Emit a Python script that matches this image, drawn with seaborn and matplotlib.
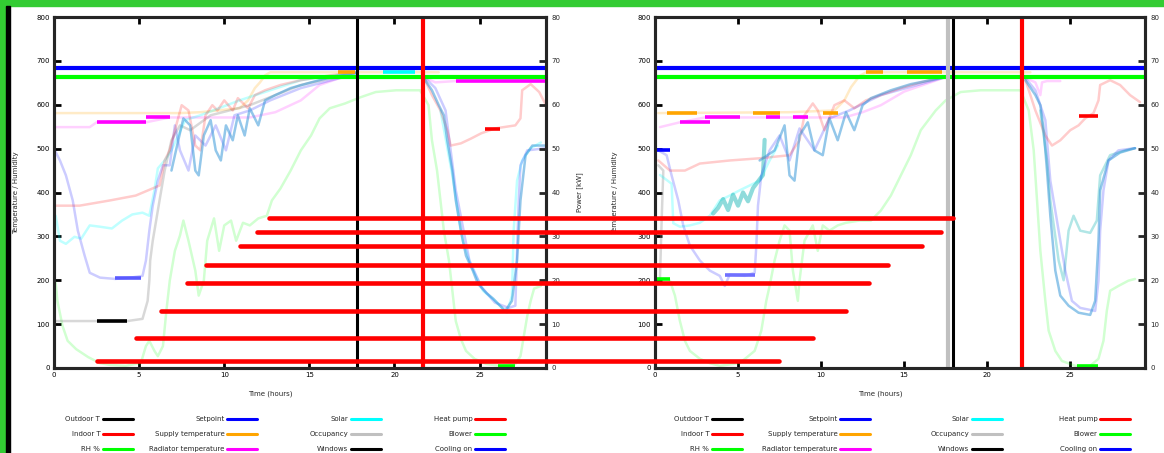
import numpy as np
import pandas as pd
import seaborn as sns
import matplotlib.pyplot as plt
from matplotlib.lines import Line2D
from matplotlib.patches import Rectangle

# ---------------- axis ticks / labels ----------------
X_TICKS = [0, 5, 10, 15, 20, 25]
Y_TICKS = [0, 100, 200, 300, 400, 500, 600, 700, 800]
Y2_TICKS = [0, 10, 20, 30, 40, 50, 60, 70, 80]
X_LABEL = "Time (hours)"
Y_LABEL = "Temperature / Humidity"
Y2_LABEL = "Power [kW]"

# legend (4 columns x 3 rows per panel)
LEG_COLORS = [["black", "red", "#00ff00"],
              ["blue", "orange", "magenta"],
              ["cyan", "silver", "black"],
              ["red", "#00ff00", "blue"]]
LEG_LABELS = [["Outdoor T", "Indoor T", "RH %"],
              ["Setpoint", "Supply temperature", "Radiator temperature"],
              ["Solar", "Occupancy", "Windows"],
              ["Heat pump", "Blower", "Cooling on"]]

# horizontal reference levels
BLUE_LEVEL = 684
GREEN_LEVEL = 664

# ---------------- left panel ----------------
L_XMAX = 28.9
L_SPLIT = 17.8
L_EVENT = 21.7

L_SALMON_A_X = [0.1, 1.5, 3.3, 4.8, 6.2, 6.5, 6.8, 7.1, 7.5, 7.9, 8.3, 8.6, 8.9, 9.3, 9.6, 10.0, 10.5, 10.8, 11.4, 11.8, 12.4, 13.3, 14.5, 16.2, 17.8]
L_SALMON_A_Y = [370, 370, 382, 393, 416, 473, 496, 542, 599, 587, 507, 496, 576, 599, 587, 610, 587, 615, 592, 622, 633, 645, 656, 667, 674]
L_SALMON_B_X = [21.8, 22.2, 22.7, 23.1, 23.3, 23.9, 24.5, 25.1, 25.9, 27.1, 27.4, 27.5, 28.0, 28.5, 28.9]
L_SALMON_B_Y = [656, 622, 587, 542, 507, 512, 523, 535, 546, 553, 569, 633, 647, 629, 599]

L_SKY_A_X = [6.9, 7.3, 7.6, 8.0, 8.3, 8.5, 8.8, 9.2, 9.5, 9.8, 10.1, 10.5, 10.8, 11.2, 11.5, 12.0, 12.4, 13.0, 13.9, 15.1, 16.5, 17.7]
L_SKY_A_Y = [450, 519, 569, 553, 450, 439, 530, 565, 496, 473, 553, 519, 576, 530, 592, 553, 610, 622, 638, 651, 665, 672]
L_SKY_B_X = [21.8, 22.2, 22.6, 22.9, 23.1, 23.4, 23.6, 23.9, 24.2, 24.6, 24.9, 25.4, 25.8, 26.2, 26.5, 26.9, 27.2, 27.4, 27.7, 28.1, 28.9]
L_SKY_B_Y = [656, 633, 599, 576, 519, 450, 382, 313, 256, 222, 192, 171, 158, 142, 130, 153, 245, 382, 485, 507, 507]

L_LAV_A_X = [0.05, 0.35, 0.7, 1.1, 1.4, 1.8, 2.1, 2.7, 3.6, 4.5, 5.2, 5.4, 5.6, 5.8, 6.1, 6.4, 6.8, 7.1, 7.4, 7.9, 8.3, 8.9, 9.5, 10.1, 10.6, 11.5, 12.7, 14.5, 16.8, 17.8]
L_LAV_A_Y = [496, 473, 439, 382, 313, 256, 217, 206, 203, 206, 210, 245, 313, 370, 427, 462, 462, 553, 496, 450, 530, 507, 553, 496, 576, 587, 610, 638, 661, 670]
L_LAV_B_X = [21.8, 22.4, 23.0, 23.6, 24.4, 25.1, 25.9, 26.7, 27.1, 27.2, 27.3, 27.4, 27.8, 28.9]
L_LAV_B_Y = [661, 638, 587, 405, 245, 185, 149, 137, 142, 267, 382, 462, 496, 501]

L_CYAN_A_X = [0.1, 0.35, 0.7, 1.2, 1.6, 2.1, 2.7, 3.4, 4.0, 4.6, 5.2, 5.6, 5.9, 6.1, 6.5, 6.9, 7.7, 8.6, 10.9, 14.5, 17.8]
L_CYAN_A_Y = [347, 290, 283, 299, 295, 325, 322, 318, 336, 350, 354, 347, 405, 455, 473, 496, 565, 576, 610, 656, 674]
L_CYAN_B_X = [22.7, 23.4, 24.0, 24.5, 25.2, 25.9, 26.6, 26.9, 27.0, 27.2, 27.5, 28.0, 28.6]
L_CYAN_B_Y = [587, 439, 290, 233, 176, 153, 126, 165, 313, 427, 473, 501, 514]

L_SILVER_X = [0.05, 2.4, 4.3, 5.2, 5.5, 5.6, 5.65, 5.8, 5.9, 6.2, 6.5, 6.9, 7.4, 8.0, 9.2, 11.5, 14.5, 17.8]
L_SILVER_Y = [107, 107, 107, 112, 153, 199, 245, 290, 313, 382, 450, 519, 553, 542, 576, 599, 645, 674]

L_GREEN_X = [0.1, 0.2, 0.5, 0.8, 1.3, 2.0, 2.7, 3.3, 4.2, 5.1, 5.4, 5.6, 5.9, 6.1, 6.4, 6.6, 6.8, 7.1, 7.4, 7.6,
             7.9, 8.3, 8.5, 8.8, 9.0, 9.4, 9.7, 10.0, 10.4, 10.7, 11.1, 11.5, 12.0, 12.5, 12.8, 13.3, 13.9, 14.5, 15.1, 15.6,
             16.2, 17.1, 18.0, 18.9, 20.1, 21.5, 22.0, 22.2, 22.5, 22.7, 22.9, 23.2, 23.4, 23.6, 23.9, 24.2, 24.7, 25.4, 26.2, 27.1,
             27.4, 27.6, 27.8, 28.0, 28.2, 28.6]
L_GREEN_Y = [194, 153, 96, 62, 43, 25, 11, 7, 5, 11, 50, 62, 39, 27, 50, 130, 199, 267, 302, 336,
             290, 222, 165, 199, 290, 341, 267, 325, 336, 290, 331, 325, 341, 347, 382, 409, 450, 496, 530, 569,
             592, 603, 617, 629, 633, 633, 599, 519, 450, 382, 313, 245, 176, 107, 66, 39, 21, 9, 5, 9,
             27, 73, 119, 153, 181, 187]

L_PEACH_X = [0.05, 3.9, 7.4, 8.6, 10.9, 11.4, 11.8, 12.1, 12.4, 12.7, 17.8, 21.5, 22.6]
L_PEACH_Y = [581, 581, 581, 583, 592, 610, 638, 651, 667, 674, 674, 674, 674]

L_MAG_A_X = [0.05, 2.1, 2.5, 5.4, 6.8, 8.6, 11.5, 13.0, 14.5, 15.6, 16.8, 17.8]
L_MAG_A_Y = [549, 549, 560, 560, 571, 571, 571, 583, 610, 645, 661, 665]
L_MAG_B_X = [21.8, 22.4, 23.6, 28.9]
L_MAG_B_Y = [661, 651, 654, 654]

# highlighted stretches: (x start, x end, level)
L_HI_RED = [(25.3, 26.2, 545)]
L_HI_GREEN = [(26.1, 27.1, 5)]
L_HI_BLUE = [(3.6, 5.1, 206)]
L_HI_BLACK = [(2.5, 4.3, 107)]
L_HI_ORANGE = [(16.7, 17.7, 674)]
L_HI_CYAN = [(19.3, 21.2, 674)]
L_HI_MAGENTA = [(2.5, 5.4, 560), (5.4, 6.8, 571), (23.6, 28.9, 654)]

# ---------------- right panel ----------------
R_XMAX = 29.5
R_SPLIT_GREY = 17.65
R_SPLIT = 17.95
R_EVENT = 22.1

R_SALMON_A_X = [0.2, 0.9, 1.8, 2.7, 4.5, 6.3, 8.1, 8.7, 9.0, 9.5, 9.8, 10.2, 10.8, 11.4, 12.0, 12.7, 13.6, 14.8, 16.0, 17.5]
R_SALMON_A_Y = [473, 450, 450, 466, 473, 478, 485, 519, 576, 603, 587, 542, 599, 610, 592, 610, 622, 638, 651, 665]
R_SALMON_B_X = [22.3, 22.6, 22.9, 23.5, 23.9, 24.4, 25.0, 25.5, 25.9, 26.4, 26.7, 26.8, 27.4, 28.0, 28.6, 29.2]
R_SALMON_B_Y = [656, 622, 587, 530, 507, 519, 542, 553, 569, 581, 610, 645, 656, 645, 622, 606]

R_SKY_A_X = [6.3, 7.2, 7.8, 8.1, 8.4, 8.7, 9.2, 9.6, 10.1, 10.5, 11.0, 11.5, 12.0, 12.5, 13.0, 14.2, 15.4, 17.5]
R_SKY_A_Y = [473, 496, 553, 439, 427, 530, 560, 496, 485, 569, 519, 583, 542, 599, 615, 633, 647, 663]
R_SKY_B_X = [22.3, 22.9, 23.2, 23.4, 23.6, 23.8, 24.1, 24.4, 24.9, 25.5, 26.2, 26.5, 26.7, 26.8, 27.3, 28.0, 28.9]
R_SKY_B_Y = [656, 622, 599, 542, 450, 347, 222, 165, 142, 126, 121, 153, 290, 405, 473, 491, 501]

R_CYAN_A_X = [0.3, 1.0, 1.1, 1.5, 2.1, 2.7, 3.3, 3.9, 4.5, 5.1, 5.7, 6.3, 6.6, 6.9, 7.4]
R_CYAN_A_Y = [440, 420, 330, 322, 325, 331, 347, 382, 393, 405, 416, 427, 450, 473, 507]
R_TEAL_X = [3.5, 3.8, 4.1, 4.4, 4.7, 5.0, 5.3, 5.6, 5.9, 6.2, 6.5, 6.6]
R_TEAL_Y = [352, 365, 385, 360, 395, 370, 400, 380, 410, 425, 440, 520]
R_CYAN_B_X = [23.2, 23.6, 23.8, 24.3, 24.6, 24.9, 25.2, 25.6, 26.2, 26.6, 26.8, 27.4, 28.3, 28.9]
R_CYAN_B_Y = [587, 473, 382, 245, 200, 313, 347, 313, 308, 336, 439, 485, 496, 501]

R_LAV_A_X = [0.2, 0.7, 1.0, 1.4, 1.7, 2.1, 2.7, 3.3, 3.9, 4.2, 4.5, 5.4, 6.0, 6.1, 6.2, 6.4, 6.9, 7.5, 8.1, 8.7, 9.6, 10.5, 11.7, 13.6, 17.5]
R_LAV_A_Y = [496, 485, 439, 382, 325, 279, 245, 222, 210, 187, 213, 210, 217, 279, 370, 439, 496, 530, 473, 546, 496, 569, 587, 622, 663]
R_LAV_B_X = [22.3, 22.9, 23.5, 23.8, 24.3, 24.7, 25.1, 25.6, 26.5, 26.7, 26.8, 27.0, 27.3, 27.9, 28.9]
R_LAV_B_Y = [661, 633, 565, 427, 313, 222, 153, 137, 130, 199, 313, 405, 473, 496, 501]

R_SILVER_X = [0.2, 0.5, 0.4, 0.3]
R_SILVER_Y = [462, 450, 336, 205]

R_GREEN_X = [0.9, 1.2, 1.5, 1.8, 2.1, 2.7, 3.3, 3.9, 5.1, 6.0, 6.4, 6.7, 6.9, 7.2, 7.5, 7.8, 8.1, 8.3, 8.6, 8.7,
             9.0, 9.5, 9.8, 10.1, 10.5, 11.0, 11.5, 12.3, 13.0, 13.6, 14.2, 14.8, 15.4, 16.0, 16.9, 17.5, 18.4, 19.6, 22.0, 22.5,
             22.8, 23.0, 23.2, 23.5, 23.7, 24.1, 24.5, 25.3, 26.2, 26.7, 27.0, 27.2, 27.4, 27.9, 28.5, 28.9]
R_GREEN_Y = [199, 165, 107, 62, 39, 21, 11, 5, 11, 39, 85, 153, 187, 245, 290, 325, 313, 222, 153, 199,
             290, 325, 267, 325, 313, 325, 331, 336, 336, 359, 393, 439, 485, 542, 587, 610, 629, 633, 633, 587,
             496, 382, 267, 153, 85, 39, 16, 5, 5, 21, 62, 130, 176, 187, 199, 203]

R_PEACH_X = [0.2, 8.1, 10.8, 11.4, 11.8, 12.3, 12.7, 17.5, 22.6]
R_PEACH_Y = [581, 583, 587, 610, 640, 665, 674, 674, 674]

R_MAG_A_X = [0.3, 1.5, 3.0, 5.1, 6.7, 9.0, 10.5, 11.4, 12.5, 13.6, 15.0, 17.5]
R_MAG_A_Y = [549, 560, 571, 571, 571, 571, 571, 571, 583, 599, 630, 663]
R_MAG_B_X = [22.3, 22.9, 23.2, 23.3, 23.6, 24.4]
R_MAG_B_Y = [661, 651, 622, 651, 654, 654]

R_HI_RED = [(25.5, 26.7, 574)]
R_HI_GREEN = [(25.4, 26.7, 5), (0.0, 0.9, 203)]
R_HI_BLUE = [(0.0, 0.9, 496)]
R_HI_LAV = [(4.2, 6.0, 213)]
R_HI_ORANGE = [(0.7, 2.5, 581), (5.9, 7.5, 581), (10.1, 11.0, 581), (12.7, 13.7, 674), (15.2, 17.3, 674)]
R_HI_MAGENTA = [(1.5, 3.3, 560), (3.0, 5.1, 571), (6.7, 7.5, 571), (8.3, 9.2, 571)]

# red annotation bars (left panel data units, running across both panels)
BAR_Y = [341, 309, 277, 235, 194, 130, 69, 16]
BAR_X0 = [12.65, 11.9, 10.9, 8.9, 7.8, 6.3, 4.8, 2.5]
BAR_X1 = [52.8, 52.1, 51.0, 49.0, 47.9, 46.5, 44.6, 42.6]

FS = 5
SPINE_W = 2.2


def trace(ax, xs, ys, color, alpha=0.22, lw=1.8):
    df = pd.DataFrame({"t": xs, "v": ys})
    sns.lineplot(data=df, x="t", y="v", ax=ax, color=color, alpha=alpha, lw=lw,
                 sort=False, estimator=None, legend=False)


def highlight(ax, segs, color, lw=2.6):
    for x0, x1, y in segs:
        ax.hlines(y, x0, x1, color=color, lw=lw, zorder=4)


def style_axes(ax, xmax, right_label=True):
    ax.set_xlim(0, xmax)
    ax.set_ylim(0, 800)
    ax.set_xticks(X_TICKS)
    ax.set_xticklabels([str(t) for t in X_TICKS])
    ax.set_yticks(Y_TICKS)
    ax.set_yticklabels([str(t) for t in Y_TICKS])
    ax.tick_params(direction="in", length=5, width=2, labelsize=FS, pad=3,
                   top=True, right=False, colors="black")
    for s in ax.spines.values():
        s.set_linewidth(SPINE_W)
        s.set_color("black")
        s.set_visible(True)
    ax.set_xlabel(X_LABEL, fontsize=FS)
    ax.set_ylabel(Y_LABEL, fontsize=FS)
    tw = ax.twinx()
    tw.set_ylim(0, 80)
    tw.set_yticks(Y2_TICKS)
    tw.set_yticklabels([str(t) for t in Y2_TICKS])
    tw.tick_params(direction="in", length=5, width=2, labelsize=FS, pad=4)
    for s in tw.spines.values():
        s.set_linewidth(SPINE_W)
    if right_label:
        tw.set_ylabel(Y2_LABEL, fontsize=FS)
    return tw


sns.set_style("ticks")
plt.rcParams["font.family"] = ["DejaVu Sans"]

W, H = 1164, 453
fig = plt.figure(figsize=(W / 100, H / 100), dpi=100)
ax1 = fig.add_axes([54 / W, 1 - 368 / H, 492 / W, 351 / H])
ax2 = fig.add_axes([655 / W, 1 - 368 / H, 490 / W, 351 / H])

# ---- left panel curves ----
trace(ax1, L_GREEN_X, L_GREEN_Y, "#00ff00", alpha=0.18)
trace(ax1, L_PEACH_X, L_PEACH_Y, "orange")
trace(ax1, L_MAG_A_X, L_MAG_A_Y, "magenta", alpha=0.18)
trace(ax1, L_MAG_B_X, L_MAG_B_Y, "magenta", alpha=0.18)
trace(ax1, L_SILVER_X, L_SILVER_Y, "grey", alpha=0.3)
trace(ax1, L_CYAN_A_X, L_CYAN_A_Y, "cyan", alpha=0.25)
trace(ax1, L_CYAN_B_X, L_CYAN_B_Y, "cyan", alpha=0.25)
trace(ax1, L_LAV_A_X, L_LAV_A_Y, "blue", alpha=0.2)
trace(ax1, L_LAV_B_X, L_LAV_B_Y, "blue", alpha=0.2)
trace(ax1, L_SALMON_A_X, L_SALMON_A_Y, "red", alpha=0.2)
trace(ax1, L_SALMON_B_X, L_SALMON_B_Y, "red", alpha=0.2)
trace(ax1, L_SKY_A_X, L_SKY_A_Y, "#3a9ad9", alpha=0.55)
trace(ax1, L_SKY_B_X, L_SKY_B_Y, "#3a9ad9", alpha=0.55)

highlight(ax1, L_HI_RED, "red")
highlight(ax1, L_HI_GREEN, "#00ff00")
highlight(ax1, L_HI_BLUE, "#5a5aff")
highlight(ax1, L_HI_BLACK, "black")
highlight(ax1, L_HI_ORANGE, "orange")
highlight(ax1, L_HI_CYAN, "cyan")
highlight(ax1, L_HI_MAGENTA, "magenta")

# ---- right panel curves ----
trace(ax2, R_GREEN_X, R_GREEN_Y, "#00ff00", alpha=0.18)
trace(ax2, R_PEACH_X, R_PEACH_Y, "orange")
trace(ax2, R_MAG_A_X, R_MAG_A_Y, "magenta", alpha=0.18)
trace(ax2, R_MAG_B_X, R_MAG_B_Y, "magenta", alpha=0.18)
trace(ax2, R_SILVER_X, R_SILVER_Y, "grey", alpha=0.3)
trace(ax2, R_CYAN_A_X, R_CYAN_A_Y, "cyan", alpha=0.25)
trace(ax2, R_TEAL_X, R_TEAL_Y, "#20b8b8", alpha=0.5, lw=3)
trace(ax2, R_CYAN_B_X, R_CYAN_B_Y, "#20b8b8", alpha=0.35)
trace(ax2, R_LAV_A_X, R_LAV_A_Y, "blue", alpha=0.2)
trace(ax2, R_LAV_B_X, R_LAV_B_Y, "blue", alpha=0.2)
trace(ax2, R_SALMON_A_X, R_SALMON_A_Y, "red", alpha=0.2)
trace(ax2, R_SALMON_B_X, R_SALMON_B_Y, "red", alpha=0.2)
trace(ax2, R_SKY_A_X, R_SKY_A_Y, "#3a9ad9", alpha=0.55)
trace(ax2, R_SKY_B_X, R_SKY_B_Y, "#3a9ad9", alpha=0.55)

highlight(ax2, R_HI_RED, "red")
highlight(ax2, R_HI_GREEN, "#00ff00")
highlight(ax2, R_HI_BLUE, "blue")
highlight(ax2, R_HI_LAV, "#7070ff")
highlight(ax2, R_HI_ORANGE, "orange")
highlight(ax2, R_HI_MAGENTA, "magenta")

# ---- reference lines, dividers, events ----
for ax, split, event in [(ax1, L_SPLIT, L_EVENT), (ax2, R_SPLIT, R_EVENT)]:
    ax.axhline(BLUE_LEVEL, color="blue", lw=3, zorder=5)
    ax.axhline(GREEN_LEVEL, color="#00ff00", lw=3, zorder=5)
    ax.axvline(split, color="black", lw=2.2, zorder=6)
    ax.axvline(event, color="red", lw=3, zorder=7)
ax2.axvline(R_SPLIT_GREY, color="silver", lw=3, zorder=6)

tw1 = style_axes(ax1, L_XMAX)
tw2 = style_axes(ax2, R_XMAX, right_label=False)

ax1.xaxis.set_label_coords(0.44, -0.065)
ax2.xaxis.set_label_coords(0.46, -0.065)
ax1.yaxis.set_label_coords(-0.071, 0.5)
ax2.yaxis.set_label_coords(-0.076, 0.5)
tw1.yaxis.set_label_coords(1.061, 0.5)

# red annotation bars across both panels
for y, x0, x1 in zip(BAR_Y, BAR_X0, BAR_X1):
    fig.add_artist(Line2D([x0, x1], [y, y], color="red", lw=3.3,
                          transform=ax1.transData, zorder=10))

# legends: one per column, right-aligned on the handle
for col_ends in ([133, 257, 381, 505], [742, 870, 1002, 1130]):
    for ci, xe in enumerate(col_ends):
        handles = [Line2D([], [], color=c, lw=2.2) for c in LEG_COLORS[ci]]
        fig.legend(handles, LEG_LABELS[ci], loc="upper right",
                   bbox_to_anchor=(xe / W, 1 - 416 / H), frameon=False,
                   fontsize=FS, markerfirst=False, handlelength=4.3,
                   handletextpad=0.4, labelspacing=1.3, borderpad=0,
                   borderaxespad=0)

# green frame at top / left of the capture
fig.add_artist(Rectangle((0, 1 - 6 / H), 1, 6 / H, transform=fig.transFigure,
                         color="#33cc33", zorder=20))
fig.add_artist(Rectangle((0, 0), 6 / W, 1, transform=fig.transFigure,
                         color="#33cc33", zorder=20))
fig.add_artist(Rectangle((6 / W, 0), 4 / W, 1 - 6 / H, transform=fig.transFigure,
                         color="black", zorder=20))

fig.savefig("out.png", dpi=100)
